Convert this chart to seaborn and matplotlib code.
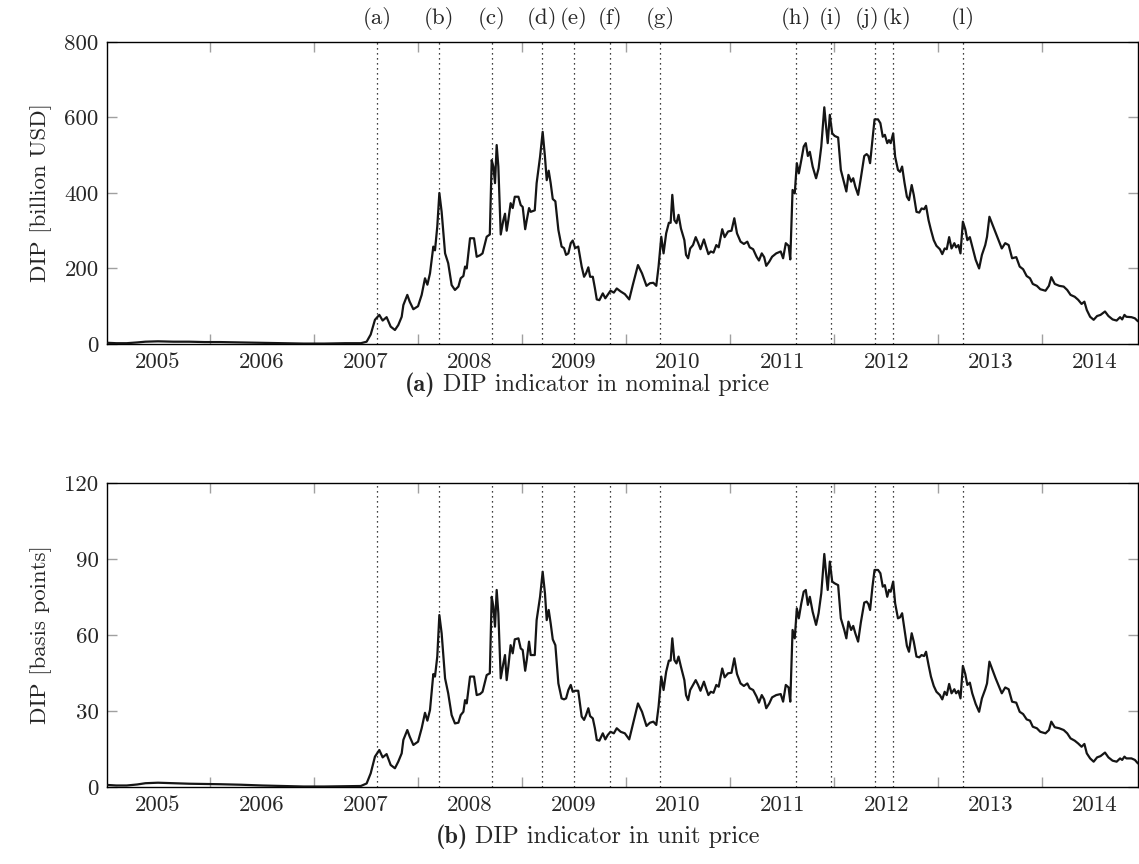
import matplotlib
matplotlib.use('Agg')
import matplotlib.pyplot as plt
import pandas as pd
import seaborn as sns

# Weekly-ish sample of the DIP indicator (decimal years)
years = [
    2004.52, 2004.60, 2004.70, 2004.80, 2004.88, 2005.00, 2005.15, 2005.30, 2005.45, 2005.60,
    2005.80, 2006.00, 2006.20, 2006.40, 2006.60, 2006.80, 2006.95,
    2007.006, 2007.045, 2007.086, 2007.128, 2007.160, 2007.198, 2007.237, 2007.278, 2007.310, 2007.343,
    2007.359, 2007.397, 2007.420, 2007.455, 2007.500, 2007.535, 2007.567, 2007.590, 2007.615, 2007.647,
    2007.663, 2007.685, 2007.705, 2007.727, 2007.760, 2007.790, 2007.823, 2007.855, 2007.888, 2007.910,
    2007.936, 2007.952, 2007.968, 2008.000, 2008.038, 2008.064, 2008.096, 2008.120, 2008.160, 2008.190,
    2008.208, 2008.224, 2008.240, 2008.256, 2008.272, 2008.295, 2008.320, 2008.336, 2008.352, 2008.368,
    2008.390, 2008.410, 2008.430, 2008.465, 2008.487, 2008.506, 2008.530, 2008.545, 2008.567, 2008.583,
    2008.622, 2008.640, 2008.673, 2008.698, 2008.720, 2008.737, 2008.756, 2008.775, 2008.795, 2008.820,
    2008.849, 2008.880, 2008.903, 2008.923, 2008.945, 2008.968, 2008.987, 2009.010, 2009.040, 2009.073,
    2009.096, 2009.115, 2009.137, 2009.154, 2009.180, 2009.200, 2009.218, 2009.243,
    2009.276, 2009.300, 2009.323, 2009.350, 2009.382, 2009.410, 2009.448, 2009.488, 2009.530, 2009.564,
    2009.614, 2009.653, 2009.696, 2009.730, 2009.762, 2009.790, 2009.812, 2009.838, 2009.860, 2009.885,
    2009.911, 2009.928, 2009.944, 2009.964, 2009.984, 2010.004, 2010.027, 2010.060, 2010.076, 2010.096,
    2010.116, 2010.143, 2010.169, 2010.192, 2010.215, 2010.248, 2010.268, 2010.291, 2010.314, 2010.340,
    2010.367, 2010.390, 2010.424, 2010.447, 2010.480, 2010.513, 2010.540, 2010.566, 2010.600, 2010.632,
    2010.665, 2010.688, 2010.721, 2010.754, 2010.777, 2010.804, 2010.827, 2010.847, 2010.876, 2010.903,
    2010.943, 2010.986, 2011.009, 2011.035, 2011.062, 2011.078, 2011.100, 2011.121, 2011.141, 2011.160,
    2011.184, 2011.207, 2011.227, 2011.247, 2011.266, 2011.293, 2011.326, 2011.350, 2011.376, 2011.405,
    2011.422, 2011.438, 2011.458, 2011.481, 2011.505, 2011.538, 2011.564, 2011.597, 2011.617, 2011.637,
    2011.663, 2011.683, 2011.703, 2011.730, 2011.756, 2011.789, 2011.812, 2011.829, 2011.845, 2011.868,
    2011.888, 2011.921, 2011.944, 2011.967, 2011.987, 2012.010, 2012.027, 2012.043, 2012.067, 2012.086,
    2012.113, 2012.133, 2012.153, 2012.176, 2012.199, 2012.219, 2012.245, 2012.265, 2012.291, 2012.318,
    2012.340, 2012.364, 2012.383, 2012.407, 2012.430, 2012.457, 2012.483, 2012.516, 2012.539, 2012.562,
    2012.582, 2012.605, 2012.628, 2012.655, 2012.672, 2012.694, 2012.714, 2012.737, 2012.760, 2012.780,
    2012.804, 2012.827, 2012.860, 2012.893, 2012.920, 2012.952, 2012.969, 2012.992, 2013.019, 2013.052,
    2013.085, 2013.111, 2013.144, 2013.177, 2013.210, 2013.250, 2013.283, 2013.316, 2013.350, 2013.382,
    2013.409, 2013.448, 2013.481, 2013.531, 2013.564, 2013.587, 2013.620, 2013.663, 2013.706, 2013.740,
    2013.772, 2013.812, 2013.845, 2013.878, 2013.905, 2013.928, 2013.960, 2013.994, 2014.027, 2014.060,
    2014.103, 2014.136, 2014.176, 2014.215, 2014.248, 2014.268, 2014.290, 2014.308, 2014.357, 2014.390,
    2014.420,
]

# DIP in nominal price [billion USD]
dip_nominal = [
    3, 2, 2, 4, 6, 7, 6, 6, 5, 5,
    4, 3, 2, 1, 1, 2, 2,
    6, 25, 64, 77, 62, 71, 46, 37, 50, 72,
    103, 130, 112, 92, 100, 130, 174, 157, 187, 258,
    248, 311, 400, 350, 240, 214, 156, 143, 152, 174,
    180, 205, 200, 280, 280, 231, 235, 240, 284, 290,
    487, 470, 426, 527, 470, 290, 328, 345, 300, 328,
    373, 360, 390, 390, 368, 363, 304, 328, 360, 350,
    354, 426, 496, 562, 496, 434, 459, 426, 384, 378,
    302, 258, 254, 236, 240, 267, 274, 254, 258, 205,
    178, 187, 203, 178, 178, 148, 118, 116,
    134, 121, 130, 141, 136, 147, 139, 132, 118, 156,
    209, 187, 154, 161, 162, 154, 205, 284, 240, 293,
    321, 321, 395, 328, 320, 342, 306, 275, 236, 227,
    253, 262, 283, 268, 251, 277, 258, 238, 245, 242,
    262, 256, 304, 283, 298, 300, 333, 293, 271, 265,
    271, 256, 251, 231, 221, 240, 230, 207, 218, 231,
    240, 245, 227, 267, 260, 224, 408, 399, 479, 452,
    487, 523, 532, 498, 509, 470, 439, 465, 523, 627,
    576, 532, 607, 558, 551, 547, 461, 426, 404, 448,
    430, 439, 417, 395, 439, 498, 503, 498, 479, 540,
    595, 595, 585, 549, 554, 532, 540, 532, 558, 496,
    461, 456, 470, 427, 390, 381, 421, 395, 350, 348,
    359, 357, 366, 328, 302, 275, 260, 251, 238, 253,
    251, 283, 253, 267, 256, 262, 240, 324, 304, 275,
    283, 258, 223, 200, 236, 262, 284, 337, 318, 295,
    271, 253, 267, 262, 227, 230, 205, 198, 180, 174,
    159, 154, 145, 141, 154, 177, 159, 154, 152, 143,
    130, 125, 117, 106, 112, 90, 72, 64, 74, 77,
    86, 74, 65, 62, 71, 65, 77, 72, 71, 68,
    60,
]

# DIP in unit price [basis points]
dip_unit = [
    0.8, 0.6, 0.6, 1.0, 1.5, 1.7, 1.5, 1.3, 1.2, 1.1,
    0.9, 0.6, 0.4, 0.2, 0.2, 0.3, 0.4,
    1.4, 5.4, 12.0, 14.6, 11.7, 13.0, 8.7, 7.4, 10.0, 13.3,
    18.6, 22.5, 19.9, 16.6, 17.9, 23.2, 29.3, 26.2, 30.4, 44.6,
    43.6, 51.5, 67.9, 60.7, 42.9, 37.0, 28.4, 25.1, 25.4, 28.4,
    29.7, 34.3, 33.0, 43.6, 43.6, 36.3, 36.7, 37.6, 44.2, 44.9,
    75.1, 71.2, 63.3, 77.8, 68.6, 42.9, 48.8, 52.1, 42.2, 47.5,
    56.0, 52.8, 58.3, 58.7, 54.7, 54.1, 45.9, 50.1, 57.4, 52.1,
    52.1, 65.9, 75.1, 85.0, 76.5, 65.9, 69.9, 64.6, 58.3, 56.0,
    40.9, 35.0, 34.6, 35.0, 38.3, 40.3, 37.6, 38.0, 38.0, 27.8,
    26.5, 28.4, 31.1, 28.0, 27.1, 23.2, 18.6, 18.3,
    21.2, 18.8, 20.5, 21.8, 21.2, 23.2, 21.8, 21.2, 18.8, 24.5,
    33.0, 29.7, 24.1, 25.4, 25.8, 24.5, 31.7, 43.6, 38.3, 45.5,
    49.9, 49.9, 58.7, 50.1, 48.8, 51.5, 47.5, 42.2, 36.3, 34.3,
    38.3, 40.3, 42.2, 40.3, 38.0, 41.6, 39.0, 36.3, 37.6, 37.2,
    40.3, 39.6, 46.8, 43.3, 44.9, 45.1, 50.8, 44.6, 40.9, 39.9,
    40.9, 39.0, 38.3, 35.7, 33.3, 36.3, 34.6, 31.1, 33.0, 35.4,
    36.3, 36.7, 33.7, 40.3, 39.3, 33.7, 62.0, 58.7, 70.5, 66.6,
    72.5, 77.1, 77.8, 71.9, 75.1, 69.2, 64.0, 68.6, 76.5, 92.0,
    84.4, 77.8, 89.0, 81.1, 80.4, 79.7, 66.6, 62.0, 58.7, 65.3,
    62.0, 63.6, 60.7, 57.4, 64.9, 72.8, 73.2, 72.2, 69.9, 79.1,
    85.7, 85.7, 84.4, 79.1, 79.7, 75.1, 77.8, 77.1, 81.1, 72.5,
    66.6, 67.0, 68.6, 62.0, 55.7, 53.4, 60.7, 57.4, 51.5, 51.2,
    52.1, 51.7, 53.4, 48.2, 43.6, 39.9, 37.6, 36.3, 34.6, 37.6,
    36.3, 40.7, 37.0, 38.6, 37.0, 38.0, 35.0, 47.8, 44.6, 40.3,
    41.2, 37.0, 32.8, 29.7, 35.0, 38.6, 40.9, 49.5, 46.5, 42.9,
    39.6, 37.0, 39.3, 38.6, 33.7, 33.3, 29.7, 28.8, 26.7, 26.2,
    23.8, 23.2, 21.8, 21.2, 22.5, 25.8, 23.6, 23.2, 22.5, 21.2,
    19.2, 18.3, 17.2, 15.9, 17.0, 13.3, 11.3, 10.0, 11.7, 12.2,
    13.6, 11.7, 10.4, 10.0, 11.3, 10.7, 12.0, 11.3, 11.3, 10.7,
    9.3,
]

# Events marked with dotted lines
event_labels = ['(a)', '(b)', '(c)', '(d)', '(e)', '(f)', '(g)', '(h)', '(i)', '(j)', '(k)', '(l)']
event_years = [2007.106, 2007.70, 2008.21, 2008.69, 2009.00, 2009.35, 2009.83,
               2011.13, 2011.47, 2011.89, 2012.07, 2012.74]

year_labels = list(range(2005, 2015))
nominal_ticks = [0, 200, 400, 600, 800]
unit_ticks = [0, 30, 60, 90, 120]

df = pd.DataFrame({'year': years, 'nominal': dip_nominal, 'unit': dip_unit})

sns.set_theme(style='white')
plt.rcParams['font.family'] = ['cmr10', 'DejaVu Serif']
plt.rcParams['axes.unicode_minus'] = False
plt.rcParams['axes.formatter.use_mathtext'] = True

fs = 16.5
cap_fs = 17.5
fig = plt.figure(figsize=(11.39, 8.64), dpi=100)
ax1 = fig.add_axes([0.0939, 0.6019, 0.9052, 0.3495])
ax2 = fig.add_axes([0.0939, 0.0891, 0.9052, 0.3518])

panels = [
    (ax1, 'nominal', nominal_ticks, 'DIP [billion USD]'),
    (ax2, 'unit', unit_ticks, 'DIP [basis points]'),
]

for ax, col, yt, ylab in panels:
    for ey in event_years:
        ax.axvline(ey, color='black', linestyle=(0, (1, 3)), linewidth=0.9, zorder=1)
    sns.lineplot(data=df, x='year', y=col, ax=ax, color='#151515',
                 linewidth=1.6, sort=False, errorbar=None, zorder=3)
    ax.set_xlim(2004.51, 2014.42)
    ax.set_ylim(yt[0], yt[-1])
    ax.set_xticks(year_labels)
    ax.set_xticklabels([str(y) for y in year_labels], fontsize=fs)
    ax.set_xticks([y + 0.5 for y in year_labels[:-1]], minor=True)
    ax.set_yticks(yt)
    ax.set_yticklabels([str(v) for v in yt], fontsize=fs)
    ax.tick_params(axis='x', which='major', length=0, pad=6)
    ax.tick_params(axis='x', which='minor', direction='in', length=7, width=1,
                   color='#a0a0a0', top=True, bottom=True)
    ax.tick_params(axis='y', which='major', direction='in', length=7, width=1,
                   color='#a0a0a0', left=True, right=True, pad=6)
    ax.set_xlabel('')
    ax.set_ylabel(ylab, fontsize=fs, labelpad=9)
    for s in ax.spines.values():
        s.set_color('black')
        s.set_linewidth(1.0)

# event letters above the top panel; (j) and (k) sit tight, nudge them apart
label_nudge = {'(j)': -0.075, '(k)': 0.035}
for lab, ey in zip(event_labels, event_years):
    ax1.text(ey + label_nudge.get(lab, 0), 1.079, lab, transform=ax1.get_xaxis_transform(),
             ha='center', va='center', fontsize=fs)

# sub-captions: bold tag followed by regular text, centred as a whole
renderer = fig.canvas.get_renderer()


def caption(xc, y_base, tag, body):
    t1 = fig.text(0, y_base, tag, family='cmb10', fontsize=cap_fs, va='baseline')
    t2 = fig.text(0, y_base, body, fontsize=cap_fs, va='baseline')
    w1 = t1.get_window_extent(renderer).width / fig.bbox.width
    w2 = t2.get_window_extent(renderer).width / fig.bbox.width
    gap = 7 / fig.bbox.width
    x0 = xc - (w1 + gap + w2) / 2
    t1.set_x(x0)
    t2.set_x(x0 + w1 + gap)


caption(0.5155, 1 - 391 / 864, '(a)', 'DIP indicator in nominal price')
caption(0.525, 1 - 843 / 864, '(b)', 'DIP indicator in unit price')

fig.savefig('out.png', dpi=100)
